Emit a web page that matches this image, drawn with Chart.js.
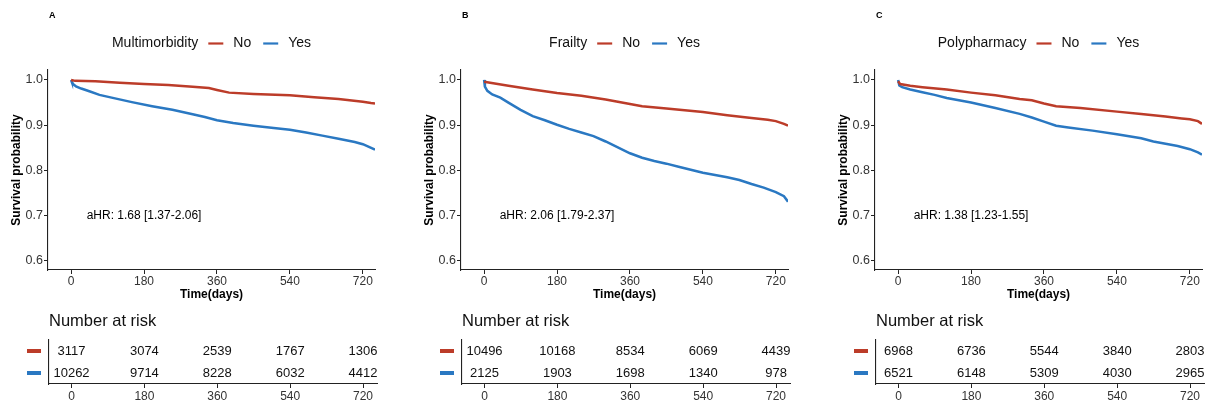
<!DOCTYPE html>
<html>
<head>
<meta charset="utf-8">
<script src="https://cdn.jsdelivr.net/npm/chart.js@4.4.1/dist/chart.umd.min.js"></script>
<style>
  body { margin: 0; background: #fff; width: 1213px; height: 406px; position: relative; overflow: hidden; }
  canvas { position: absolute; }
</style>
</head>
<body>
<script>
// Kaplan-Meier curves (time in days, survival probability)
const timeA_No = [0, 10, 60, 120, 180, 240, 300, 340, 360, 390, 450, 540, 600, 660, 720, 740, 750];
const survA_No = [1.0, 0.998, 0.997, 0.994, 0.991, 0.989, 0.985, 0.982, 0.978, 0.972, 0.969, 0.966, 0.962, 0.958, 0.952, 0.949, 0.948];
const timeA_Yes = [0, 2, 6, 12, 25, 45, 70, 100, 150, 200, 250, 300, 330, 360, 400, 450, 500, 540, 580, 620, 660, 700, 720, 735, 750];
const survA_Yes = [1.0, 0.995, 0.99, 0.986, 0.981, 0.975, 0.967, 0.961, 0.951, 0.942, 0.934, 0.924, 0.918, 0.911, 0.905, 0.899, 0.894, 0.89, 0.884, 0.877, 0.87, 0.863, 0.858, 0.852, 0.846];

const timeB_No = [0, 60, 120, 180, 240, 300, 360, 390, 450, 540, 600, 660, 700, 720, 740, 750];
const survB_No = [0.996, 0.987, 0.979, 0.971, 0.965, 0.957, 0.947, 0.942, 0.937, 0.929, 0.922, 0.916, 0.912, 0.909, 0.903, 0.899];
const timeB_Yes = [0, 2, 8, 20, 40, 60, 90, 120, 150, 180, 210, 240, 270, 300, 330, 360, 390, 420, 450, 480, 540, 600, 630, 660, 690, 720, 740, 750];
const survB_Yes = [1.0, 0.985, 0.976, 0.968, 0.961, 0.95, 0.934, 0.92, 0.911, 0.901, 0.892, 0.884, 0.876, 0.864, 0.851, 0.838, 0.828, 0.821, 0.815, 0.808, 0.795, 0.785, 0.779, 0.77, 0.762, 0.752, 0.743, 0.731];

const timeC_No = [0, 5, 30, 60, 120, 180, 240, 300, 330, 360, 390, 450, 540, 600, 660, 700, 720, 740, 750];
const survC_No = [0.997, 0.991, 0.987, 0.984, 0.979, 0.972, 0.966, 0.958, 0.955, 0.948, 0.942, 0.938, 0.93, 0.925, 0.919, 0.915, 0.913, 0.909, 0.903];
const timeC_Yes = [0, 3, 10, 30, 60, 90, 120, 180, 240, 300, 330, 360, 390, 420, 480, 540, 600, 630, 660, 690, 720, 740, 750];
const survC_Yes = [1.0, 0.988, 0.984, 0.979, 0.973, 0.967, 0.96, 0.95, 0.938, 0.925, 0.917, 0.908, 0.899, 0.895, 0.888, 0.88, 0.871, 0.864, 0.859, 0.854, 0.847, 0.84, 0.835];

// Number at risk tables
const riskTimes = [0, 180, 360, 540, 720];
const riskA_No = [3117, 3074, 2539, 1767, 1306];
const riskA_Yes = [10262, 9714, 8228, 6032, 4412];
const riskB_No = [10496, 10168, 8534, 6069, 4439];
const riskB_Yes = [2125, 1903, 1698, 1340, 978];
const riskC_No = [6968, 6736, 5544, 3840, 2803];
const riskC_Yes = [6521, 6148, 5309, 4030, 2965];

// Labels and ticks
const panelLabels = ["A", "B", "C"];
const groupNames = ["Multimorbidity", "Frailty", "Polypharmacy"];
const seriesNames = ["No", "Yes"];
const hrLabels = ["aHR: 1.68 [1.37-2.06]", "aHR: 2.06 [1.79-2.37]", "aHR: 1.38 [1.23-1.55]"];
const xTicks = [0, 180, 360, 540, 720];
const yTicks = [0.6, 0.7, 0.8, 0.9, 1.0];

const colors = ["#BC3C29", "#2A78C2"];
const FONT = "'Liberation Sans', Arial, sans-serif";
const panelOffsets = [0, 413, 827];

Chart.defaults.font.family = FONT;
Chart.defaults.color = "#333";

const panels = [
  { no: [timeA_No, survA_No], yes: [timeA_Yes, survA_Yes], risk: [riskA_No, riskA_Yes] },
  { no: [timeB_No, survB_No], yes: [timeB_Yes, survB_Yes], risk: [riskB_No, riskB_Yes] },
  { no: [timeC_No, survC_No], yes: [timeC_Yes, survC_Yes], risk: [riskC_No, riskC_Yes] },
];

function toPoints(times, surv) {
  return times.map((t, i) => ({ x: t, y: surv[i] }));
}

function makeCanvas(left, top, w, h) {
  const c = document.createElement("canvas");
  c.width = w;
  c.height = h;
  c.style.left = left + "px";
  c.style.top = top + "px";
  c.style.width = w + "px";
  c.style.height = h + "px";
  document.body.appendChild(c);
  return c.getContext("2d");
}

function axisCommon() {
  return {
    border: { display: true, color: "#222", width: 1.1 },
    grid: { display: true, drawOnChartArea: false, drawTicks: true, tickLength: 4, color: "#222", lineWidth: 1 },
  };
}

function drawKM(idx) {
  const p = panels[idx];
  const ctx = makeCanvas(panelOffsets[idx], 0, 390, 305);

  const textPlugin = {
    id: "kmText",
    afterDraw(chart) {
      const c = chart.ctx;
      const area = chart.chartArea;
      c.save();
      // panel letter
      c.fillStyle = "#000";
      c.font = "bold 9px " + FONT;
      c.textAlign = "left";
      c.textBaseline = "middle";
      c.fillText(panelLabels[idx], area.left + 1, 16);

      // legend: group name, then line samples with No / Yes
      c.font = "14px " + FONT;
      const title = groupNames[idx];
      const lineLen = 15;
      const parts = [c.measureText(title).width + 10];
      seriesNames.forEach((s, i) => {
        parts.push(lineLen + 10);
        parts.push(c.measureText(s).width + (i < seriesNames.length - 1 ? 12 : 0));
      });
      const total = parts.reduce((a, b) => a + b, 0);
      let x = (area.left + area.right) / 2 - total / 2;
      const y = 43.5;
      c.fillStyle = "#111";
      c.fillText(title, x, y);
      x += parts[0];
      seriesNames.forEach((s, i) => {
        c.strokeStyle = colors[i];
        c.lineWidth = 2.2;
        c.beginPath();
        c.moveTo(x, y);
        c.lineTo(x + lineLen, y);
        c.stroke();
        x += lineLen + 10;
        c.fillStyle = "#111";
        c.fillText(s, x, y);
        x += parts[2 + i * 2];
      });

      // hazard ratio annotation
      const xs = chart.scales.x;
      const ys = chart.scales.y;
      c.font = "12px " + FONT;
      c.textAlign = "center";
      c.fillStyle = "#000";
      c.fillText(hrLabels[idx], xs.getPixelForValue(180), ys.getPixelForValue(0.7));
      c.restore();
    },
  };

  new Chart(ctx, {
    type: "line",
    data: {
      datasets: [
        { label: seriesNames[0], data: toPoints(p.no[0], p.no[1]), borderColor: colors[0] },
        { label: seriesNames[1], data: toPoints(p.yes[0], p.yes[1]), borderColor: colors[1] },
      ].map((d) => ({ ...d, borderWidth: 2.5, pointRadius: 0, tension: 0, fill: false })),
    },
    options: {
      responsive: false,
      animation: false,
      devicePixelRatio: 1,
      layout: { padding: { top: 70, right: 15, left: 0, bottom: 0 } },
      plugins: { legend: { display: false }, tooltip: { enabled: false } },
      scales: {
        x: {
          type: "linear",
          min: -57,
          max: 750,
          ...axisCommon(),
          afterBuildTicks: (s) => { s.ticks = xTicks.map((v) => ({ value: v })); },
          afterFit: (s) => { s.height = 35; },
          ticks: { font: { size: 12 }, color: "#333", padding: 0, maxRotation: 0 },
          title: { display: true, text: "Time(days)", color: "#000", font: { size: 12, weight: "bold" }, padding: { top: 0, bottom: 3 } },
        },
        y: {
          type: "linear",
          min: 0.58,
          max: 1.022,
          ...axisCommon(),
          afterBuildTicks: (s) => { s.ticks = yTicks.map((v) => ({ value: v })); },
          afterFit: (s) => { s.width = 48; },
          ticks: { font: { size: 12.5 }, color: "#333", padding: 1, callback: (v) => Number(v).toFixed(1) },
          title: { display: true, text: "Survival probability", color: "#000", font: { size: 12, weight: "bold" }, padding: { top: 9.5, bottom: 0 } },
        },
      },
    },
    plugins: [textPlugin],
  });
}

function drawRisk(idx) {
  const p = panels[idx];
  const ctx = makeCanvas(panelOffsets[idx], 305, 390, 101);

  const riskPlugin = {
    id: "riskText",
    afterDraw(chart) {
      const c = chart.ctx;
      const area = chart.chartArea;
      const xs = chart.scales.x;
      const ys = chart.scales.y;
      c.save();
      c.fillStyle = "#111";
      c.font = "16.5px " + FONT;
      c.textAlign = "left";
      c.textBaseline = "middle";
      c.fillText("Number at risk", area.left, 16.5);

      c.font = "13px " + FONT;
      c.textAlign = "center";
      p.risk.forEach((row, r) => {
        const y = ys.getPixelForValue(2 - r);
        c.fillStyle = colors[r];
        c.fillRect(27, y - 2, 14, 4);
        c.fillStyle = "#111";
        row.forEach((n, i) => {
          c.fillText(String(n), xs.getPixelForValue(riskTimes[i]), y);
        });
      });
      c.restore();
    },
  };

  new Chart(ctx, {
    type: "scatter",
    data: { datasets: [] },
    options: {
      responsive: false,
      animation: false,
      devicePixelRatio: 1,
      layout: { padding: { top: 35, right: 13, left: 0, bottom: 0 } },
      plugins: { legend: { display: false }, tooltip: { enabled: false } },
      scales: {
        x: {
          type: "linear",
          min: -55.6,
          max: 754.5,
          ...axisCommon(),
          afterBuildTicks: (s) => { s.ticks = xTicks.map((v) => ({ value: v })); },
          afterFit: (s) => { s.height = 22; },
          ticks: { font: { size: 12 }, color: "#333", padding: 1, maxRotation: 0 },
        },
        y: {
          type: "linear",
          min: 0.5,
          max: 2.5,
          border: { display: true, color: "#222", width: 1.1 },
          grid: { display: false },
          ticks: { display: false },
          afterFit: (s) => { s.width = 49; },
        },
      },
    },
    plugins: [riskPlugin],
  });
}

[0, 1, 2].forEach((i) => {
  drawKM(i);
  drawRisk(i);
});
</script>
</body>
</html>
